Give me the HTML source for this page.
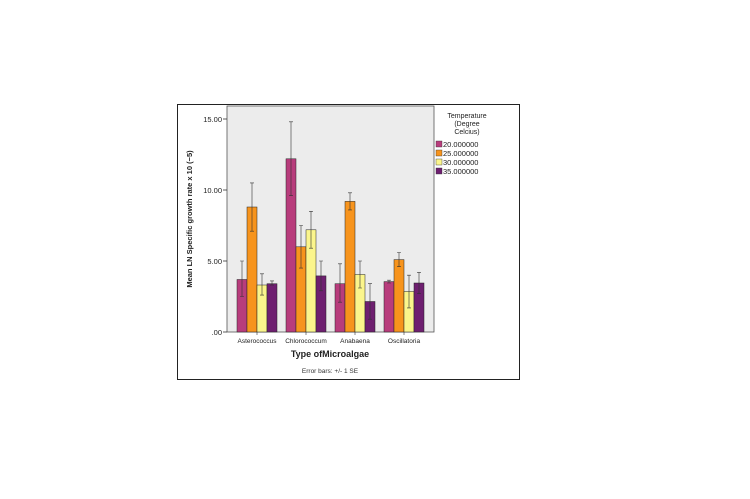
<!DOCTYPE html>
<html><head><style>body{margin:0;background:#fff}svg{display:block}text{font-family:"Liberation Sans",sans-serif}</style></head>
<body>
<svg width="750" height="499" viewBox="0 0 750 499" xmlns="http://www.w3.org/2000/svg">
<rect x="177.5" y="104.5" width="342" height="275" fill="#fff" stroke="#222" stroke-width="1"/>
<rect x="227" y="106" width="207" height="226" fill="#ececec" stroke="#555" stroke-width="0.8"/>
<g font-size="7.5" fill="#222" text-anchor="end">
<text x="222" y="122">15.00</text><text x="222" y="193">10.00</text><text x="222" y="264">5.00</text><text x="222" y="335">.00</text>
</g>
<g stroke="#333" stroke-width="0.8"><line x1="223" y1="119" x2="227" y2="119"/><line x1="223" y1="190" x2="227" y2="190"/><line x1="223" y1="261" x2="227" y2="261"/><line x1="223" y1="332" x2="227" y2="332"/></g>
<g stroke="#222" stroke-width="0.5">
<rect x="237" y="279.5" width="10" height="52.5" fill="#b83c7c"/>
<rect x="247" y="207" width="10" height="125" fill="#f7941d"/>
<rect x="257" y="285" width="10" height="47" fill="#fbf58c"/>
<rect x="267" y="283.7" width="10" height="48.3" fill="#6e1f70"/>
<rect x="286" y="158.8" width="10" height="173.2" fill="#b83c7c"/>
<rect x="296" y="246.8" width="10" height="85.2" fill="#f7941d"/>
<rect x="306" y="229.8" width="10" height="102.2" fill="#fbf58c"/>
<rect x="316" y="275.9" width="10" height="56.1" fill="#6e1f70"/>
<rect x="335" y="283.7" width="10" height="48.3" fill="#b83c7c"/>
<rect x="345" y="201.4" width="10" height="130.6" fill="#f7941d"/>
<rect x="355" y="274.5" width="10" height="57.5" fill="#fbf58c"/>
<rect x="365" y="301.5" width="10" height="30.5" fill="#6e1f70"/>
<rect x="384" y="281.6" width="10" height="50.4" fill="#b83c7c"/>
<rect x="394" y="259.6" width="10" height="72.4" fill="#f7941d"/>
<rect x="404" y="291.5" width="10" height="40.5" fill="#fbf58c"/>
<rect x="414" y="283" width="10" height="49" fill="#6e1f70"/>
</g>
<g stroke="#333" stroke-width="0.6" fill="none">
<path d="M242 296.5V261M240 296.5h4M240 261h4"/>
<path d="M252 231.2V182.9M250 231.2h4M250 182.9h4"/>
<path d="M262 295.1V273.8M260 295.1h4M260 273.8h4"/>
<path d="M272 285.1V280.9M270 285.1h4M270 280.9h4"/>
<path d="M291 195.7V121.8M289 195.7h4M289 121.8h4"/>
<path d="M301 268.1V225.5M299 268.1h4M299 225.5h4"/>
<path d="M311 248.2V211.3M309 248.2h4M309 211.3h4"/>
<path d="M321 290.8V261M319 290.8h4M319 261h4"/>
<path d="M340 302.2V263.8M338 302.2h4M338 263.8h4"/>
<path d="M350 209.9V192.8M348 209.9h4M348 192.8h4"/>
<path d="M360 288V261M358 288h4M358 261h4"/>
<path d="M370 319.2V283.7M368 319.2h4M368 283.7h4"/>
<path d="M389 283V280.2M387 283h4M387 280.2h4"/>
<path d="M399 266.7V252.5M397 266.7h4M397 252.5h4"/>
<path d="M409 307.9V275.2M407 307.9h4M407 275.2h4"/>
<path d="M419 293.7V272.4M417 293.7h4M417 272.4h4"/>
</g>
<g stroke="#333" stroke-width="0.6"><line x1="257" y1="332" x2="257" y2="335"/><line x1="306" y1="332" x2="306" y2="335"/><line x1="355" y1="332" x2="355" y2="335"/><line x1="404" y1="332" x2="404" y2="335"/></g>
<g font-size="6.5" fill="#222" text-anchor="middle">
<text x="257" y="343">Asterococcus</text><text x="306" y="343">Chlorococcum</text><text x="355" y="343">Anabaena</text><text x="404" y="343">Oscillatoria</text>
</g>
<text x="330" y="357" font-size="9" font-weight="bold" text-anchor="middle" fill="#222">Type ofMicroalgae</text>
<text x="330" y="373" font-size="6.5" text-anchor="middle" fill="#333">Error bars: +/- 1 SE</text>
<text transform="translate(192,219) rotate(-90)" font-size="7.5" font-weight="bold" text-anchor="middle" fill="#222">Mean LN Specific growth rate x 10 (−5)</text>
<g font-size="7" fill="#222" text-anchor="middle"><text x="467" y="118">Temperature</text><text x="467" y="126">(Degree</text><text x="467" y="134">Celcius)</text></g>
<g stroke="#333" stroke-width="0.4">
<rect x="436" y="141" width="6" height="6" fill="#b83c7c"/><rect x="436" y="150" width="6" height="6" fill="#f7941d"/><rect x="436" y="159" width="6" height="6" fill="#fbf58c"/><rect x="436" y="168" width="6" height="6" fill="#6e1f70"/>
</g>
<g font-size="7.5" fill="#222"><text x="443" y="147">20.000000</text><text x="443" y="156">25.000000</text><text x="443" y="165">30.000000</text><text x="443" y="174">35.000000</text></g>
</svg>
</body></html>
